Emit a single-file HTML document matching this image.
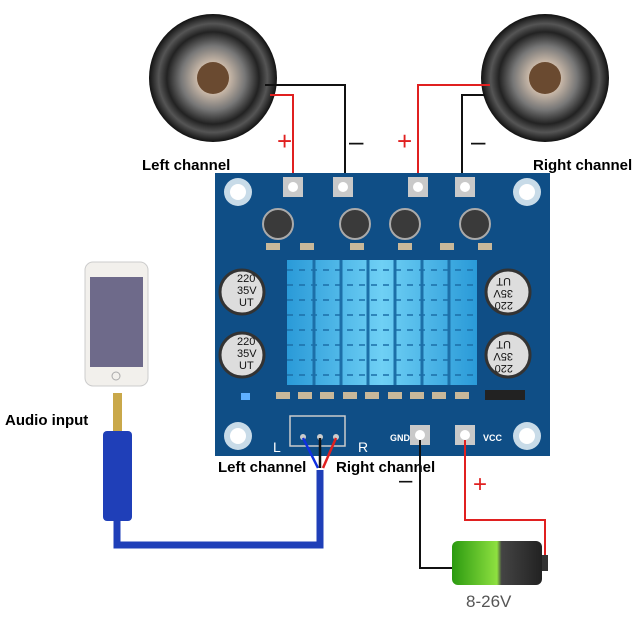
<!DOCTYPE html>
<html><head><style>
body{margin:0;background:#fff;width:640px;height:619px;overflow:hidden}
svg{display:block}
text{font-family:"Liberation Sans",sans-serif}
</style></head><body>
<svg width="640" height="619" viewBox="0 0 640 619">
<defs>
<radialGradient id="spk" cx="50%" cy="50%" r="50%">
<stop offset="0" stop-color="#4a3020"/><stop offset="0.25" stop-color="#c9b8a8"/><stop offset="0.5" stop-color="#777"/><stop offset="0.72" stop-color="#222"/><stop offset="0.85" stop-color="#555"/><stop offset="1" stop-color="#111"/>
</radialGradient>
<linearGradient id="hs" x1="0" x2="1"><stop offset="0" stop-color="#2a9ad8"/><stop offset="0.5" stop-color="#6fd0f5"/><stop offset="1" stop-color="#2a9ad8"/></linearGradient>
<linearGradient id="bat" x1="0" x2="1"><stop offset="0" stop-color="#2b9a10"/><stop offset="0.5" stop-color="#8ee040"/><stop offset="0.55" stop-color="#444"/><stop offset="1" stop-color="#222"/></linearGradient>
</defs>

<circle cx="213" cy="78" r="64" fill="url(#spk)"/>
<circle cx="213" cy="78" r="16" fill="#6a4a30"/>
<circle cx="545" cy="78" r="64" fill="url(#spk)"/>
<circle cx="545" cy="78" r="16" fill="#6a4a30"/>

<g fill="none" stroke-width="2">
<polyline points="270,95 293,95 293,185" stroke="#e02020"/>
<polyline points="265,85 345,85 345,185" stroke="#111"/>
<polyline points="490,85 418,85 418,185" stroke="#e02020"/>
<polyline points="485,95 462,95 462,185" stroke="#111"/>
</g>
<text x="277" y="150" font-size="26" fill="#e02020">+</text>
<text x="397" y="150" font-size="26" fill="#e02020">+</text>
<text x="349" y="150" font-size="26" fill="#111">–</text>
<text x="471" y="150" font-size="26" fill="#111">–</text>
<text x="142" y="170" font-size="15" font-weight="bold" fill="#000">Left channel</text>
<text x="533" y="170" font-size="15" font-weight="bold" fill="#000">Right channel</text>

<rect x="215" y="173" width="335" height="283" fill="#0f4e86"/>
<g fill="#c8dbe8"><circle cx="238" cy="192" r="14"/><circle cx="527" cy="192" r="14"/><circle cx="238" cy="436" r="14"/><circle cx="527" cy="436" r="14"/></g>
<g fill="#fff"><circle cx="238" cy="192" r="8"/><circle cx="527" cy="192" r="8"/><circle cx="238" cy="436" r="8"/><circle cx="527" cy="436" r="8"/></g>
<g fill="#c9c9c9"><rect x="283" y="177" width="20" height="20"/><rect x="333" y="177" width="20" height="20"/><rect x="408" y="177" width="20" height="20"/><rect x="455" y="177" width="20" height="20"/><rect x="410" y="425" width="20" height="20"/><rect x="455" y="425" width="20" height="20"/></g>
<g fill="#fff"><circle cx="293" cy="187" r="5"/><circle cx="343" cy="187" r="5"/><circle cx="418" cy="187" r="5"/><circle cx="465" cy="187" r="5"/><circle cx="420" cy="435" r="5"/><circle cx="465" cy="435" r="5"/></g>
<g fill="#3a3a3a" stroke="#aaa" stroke-width="2"><circle cx="278" cy="224" r="15"/><circle cx="355" cy="224" r="15"/><circle cx="405" cy="224" r="15"/><circle cx="475" cy="224" r="15"/></g>
<g fill="#c8b89a"><rect x="266" y="243" width="14" height="7"/><rect x="300" y="243" width="14" height="7"/><rect x="350" y="243" width="14" height="7"/><rect x="398" y="243" width="14" height="7"/><rect x="440" y="243" width="14" height="7"/><rect x="478" y="243" width="14" height="7"/></g>
<g fill="#ddd" stroke="#333" stroke-width="3"><circle cx="242" cy="292" r="22"/><circle cx="242" cy="355" r="22"/><circle cx="508" cy="292" r="22"/><circle cx="508" cy="355" r="22"/></g>
<g font-size="11" fill="#111"><text x="237" y="282">220</text><text x="237" y="294">35V</text><text x="239" y="306">UT</text><text x="237" y="345">220</text><text x="237" y="357">35V</text><text x="239" y="369">UT</text></g>
<g font-size="11" fill="#111" transform="rotate(180 508 292)"><text x="503" y="282">220</text><text x="503" y="294">35V</text><text x="505" y="306">UT</text></g>
<g font-size="11" fill="#111" transform="rotate(180 508 355)"><text x="503" y="345">220</text><text x="503" y="357">35V</text><text x="505" y="369">UT</text></g>
<rect x="287" y="260" width="190" height="125" fill="url(#hs)"/>
<g stroke="#1c6fa8" stroke-width="3"><line x1="314" y1="260" x2="314" y2="385"/><line x1="341" y1="260" x2="341" y2="385"/><line x1="368" y1="260" x2="368" y2="385"/><line x1="395" y1="260" x2="395" y2="385"/><line x1="422" y1="260" x2="422" y2="385"/><line x1="449" y1="260" x2="449" y2="385"/></g>
<g stroke="#1c6fa8" stroke-width="1.5" stroke-dasharray="6 6"><line x1="287" y1="270" x2="477" y2="270"/><line x1="287" y1="285" x2="477" y2="285"/><line x1="287" y1="300" x2="477" y2="300"/><line x1="287" y1="315" x2="477" y2="315"/><line x1="287" y1="330" x2="477" y2="330"/><line x1="287" y1="345" x2="477" y2="345"/><line x1="287" y1="360" x2="477" y2="360"/><line x1="287" y1="375" x2="477" y2="375"/></g>
<g fill="#c8b89a"><rect x="276" y="392" width="14" height="7"/><rect x="298" y="392" width="14" height="7"/><rect x="320" y="392" width="14" height="7"/><rect x="343" y="392" width="14" height="7"/><rect x="365" y="392" width="14" height="7"/><rect x="388" y="392" width="14" height="7"/><rect x="410" y="392" width="14" height="7"/><rect x="432" y="392" width="14" height="7"/><rect x="455" y="392" width="14" height="7"/></g>
<rect x="485" y="390" width="40" height="10" fill="#222"/>
<rect x="241" y="393" width="9" height="7" fill="#5fb0ff"/>
<rect x="290" y="416" width="55" height="30" fill="none" stroke="#ccc" stroke-width="1.5"/>
<g fill="#ccc"><circle cx="303" cy="437" r="3"/><circle cx="320" cy="437" r="3"/><circle cx="336" cy="437" r="3"/></g>
<g font-size="9" font-weight="bold" fill="#fff"><text x="390" y="441">GND</text><text x="483" y="441">VCC</text></g>
<text x="273" y="452" font-size="14" fill="#fff">L</text>
<text x="358" y="452" font-size="14" fill="#fff">R</text>

<rect x="85" y="262" width="63" height="124" rx="8" fill="#f2f0ec" stroke="#ccc"/>
<rect x="90" y="277" width="53" height="90" fill="#6e6a8a"/>
<circle cx="116" cy="376" r="4" fill="none" stroke="#aaa"/>

<rect x="113" y="393" width="9" height="38" fill="#c9a84a"/>
<rect x="103" y="431" width="29" height="90" rx="4" fill="#1f3fb8"/>
<polyline points="117,520 117,545 320,545 320,470" fill="none" stroke="#1f3fb8" stroke-width="7"/>
<g stroke-width="2.5"><line x1="303" y1="438" x2="318" y2="468" stroke="#1030e0"/><line x1="320" y1="438" x2="320" y2="468" stroke="#111"/><line x1="336" y1="438" x2="323" y2="468" stroke="#e02020"/></g>
<text x="5" y="425" font-size="15" font-weight="bold" fill="#000">Audio input</text>
<text x="218" y="472" font-size="15" font-weight="bold" fill="#000">Left channel</text>
<text x="336" y="472" font-size="15" font-weight="bold" fill="#000">Right channel</text>

<polyline points="420,440 420,568 452,568" fill="none" stroke="#111" stroke-width="2"/>
<polyline points="465,440 465,520 545,520 545,555" fill="none" stroke="#e02020" stroke-width="2"/>
<text x="399" y="488" font-size="24" fill="#111">–</text>
<text x="473" y="492" font-size="24" fill="#e02020">+</text>
<rect x="452" y="541" width="90" height="44" rx="6" fill="url(#bat)"/>
<rect x="542" y="555" width="6" height="16" fill="#333"/>
<text x="466" y="607" font-size="17" fill="#555">8-26V</text>
</svg>
</body></html>
